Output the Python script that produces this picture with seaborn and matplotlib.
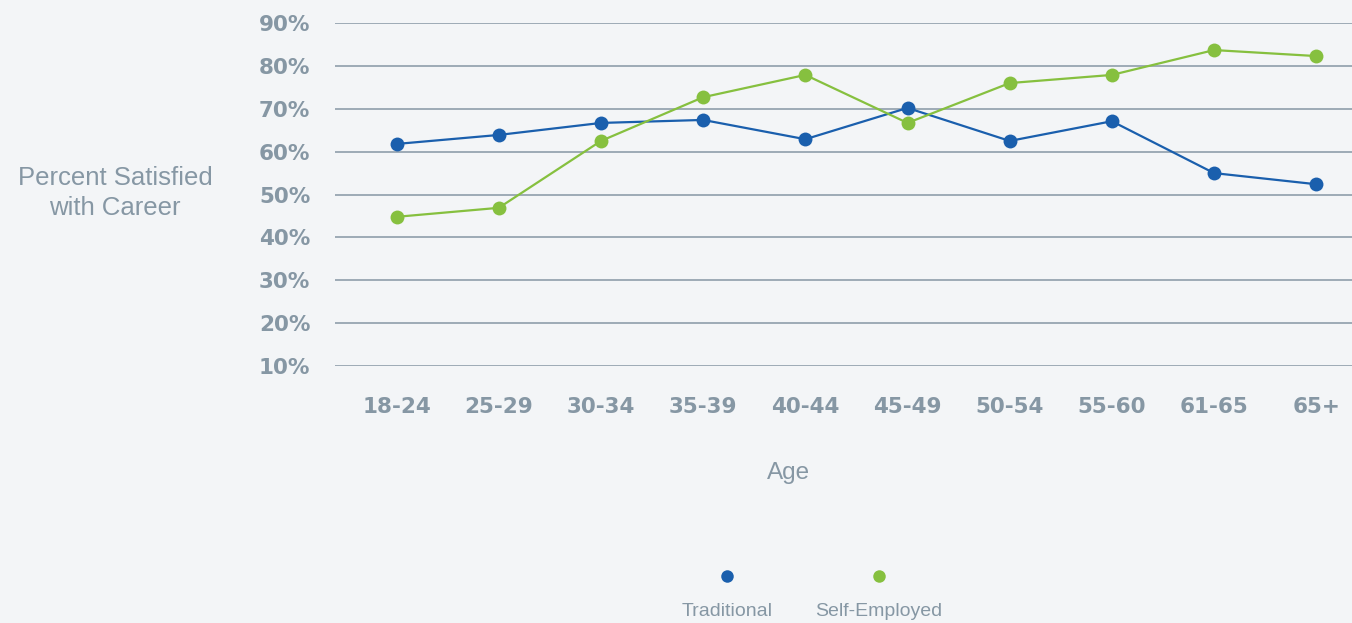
import pandas as pd
import matplotlib.pyplot as plt
import seaborn as sns
from matplotlib.lines import Line2D

ages = ["18-24", "25-29", "30-34", "35-39", "40-44", "45-49", "50-54", "55-60", "61-65", "65+"]
traditional = [61.8, 63.9, 66.7, 67.4, 62.9, 70.2, 62.5, 67.1, 55.0, 52.4]
self_employed = [44.8, 46.9, 62.5, 72.7, 77.9, 66.7, 76.0, 77.9, 83.7, 82.3]
series = ["Traditional", "Self-Employed"]
colors = ["#1a5fad", "#86c03f"]

bg = "#f3f5f7"
grey = "#8697a4"

df = pd.DataFrame({
    "Age": ages * 2,
    "Percent": traditional + self_employed,
    "Type": [series[0]] * len(ages) + [series[1]] * len(ages),
})

sns.set_style("white")
plt.rcParams["font.family"] = ["Liberation Sans", "DejaVu Sans"]

fig = plt.figure(figsize=(13.52, 6.23), dpi=100, facecolor=bg)
ax = fig.add_axes([0.248, 0.4125, 0.752, 0.5505])
ax.set_facecolor(bg)

sns.lineplot(data=df, x="Age", y="Percent", hue="Type", palette=colors,
             marker="o", markersize=10, markeredgewidth=0, linewidth=1.6,
             sort=False, legend=False, ax=ax)

ax.set_ylim(10, 90)
ax.set_xlim(-0.6, 9.35)
ax.set_yticks(range(10, 100, 10))
ax.set_yticklabels([f"{v}%" for v in range(10, 100, 10)])
ax.yaxis.grid(True, color=grey, linewidth=1.1)
ax.set_axisbelow(True)
for s in ax.spines.values():
    s.set_visible(False)
ax.tick_params(axis="both", length=0, labelsize=15.5, labelcolor=grey)
ax.tick_params(axis="y", pad=18)
ax.tick_params(axis="x", pad=22)
for lbl in ax.get_xticklabels() + ax.get_yticklabels():
    lbl.set_fontweight("bold")
    lbl.set_family("DejaVu Sans")

ax.set_xlabel("")
ax.set_ylabel("")
fig.text(789 / 1352, 1 - 473 / 623, "Age", ha="center", va="center",
         fontsize=17.5, color=grey)
fig.text(115 / 1352, 1 - 193 / 623, "Percent Satisfied\nwith Career", ha="center", va="center",
         fontsize=18.5, color=grey, linespacing=1.35)

# legend: markers above labels
for name, c, x in zip(series, colors, [727, 879]):
    fig.add_artist(Line2D([x / 1352], [1 - 576 / 623], transform=fig.transFigure,
                          marker="o", markersize=9, markeredgewidth=0, color=c, linestyle=""))
    fig.text(x / 1352, 1 - 611 / 623, name, ha="center", va="center", fontsize=14, color=grey)

fig.savefig("out.png", dpi=100, facecolor=bg)
